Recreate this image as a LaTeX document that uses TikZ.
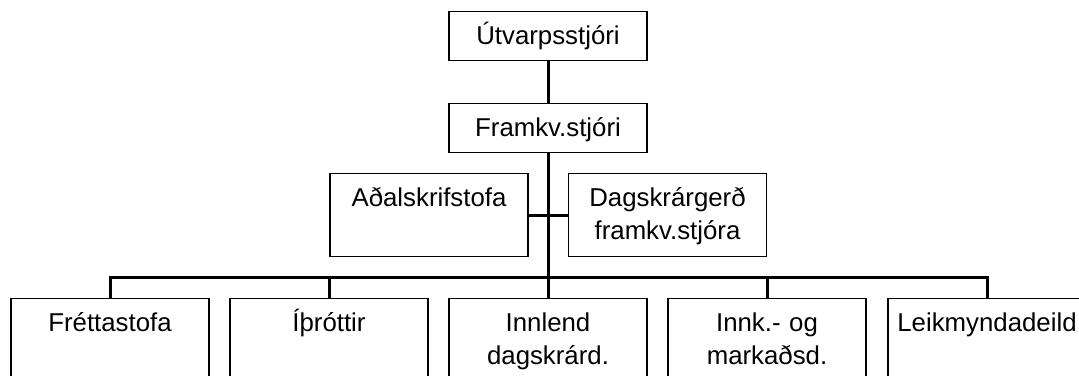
\documentclass[tikz,border=0pt]{standalone}
\usepackage{fontspec}
\setmainfont{Liberation Sans}
\usepackage{tikz}

\tikzset{
  unit/.style={draw, line width=0.7pt, anchor=north, inner sep=0pt,
    text width=99pt, align=center, text height=16.5pt,
    font=\fontsize{12.9}{16.3}\selectfont},
  topunit/.style={unit, text depth=8pt},
  midunit/.style={unit, text depth=25pt},
  lowunit/.style={unit, text depth=45pt},
  conn/.style={line width=1.5pt}
}

\begin{document}
\begin{tikzpicture}[x=0.5pt,y=-0.5pt]
  \useasboundingbox (0,0) rectangle (1079,375);

  % top of the chart
  \node[topunit] (utv) at (548,11) {Útvarpsstjóri};
  \node[topunit] (fkv) at (548,103) {Framkv.stjóri};

  % staff units
  \node[midunit] (adal) at (429,173) {Aðalskrifstofa};
  \node[midunit] (dagfk) at (667.5,173) {Dagskrárgerð\\framkv.stjóra};

  % departments
  \node[lowunit] (frett) at (110,298) {Fréttastofa};
  \node[lowunit] (ithr) at (329,298) {Íþróttir};
  \node[lowunit] (innl) at (548,298) {Innlend\\dagskrárd.};
  \node[lowunit] (innk) at (767,298) {Innk.- og\\markaðsd.};
  \node[lowunit] (leik) at (987,298) {Leikmyndadeild};

  \coordinate (bar) at (548,277);

  \draw[conn] (utv.south) -- (fkv.north);
  \draw[conn] (fkv.south) -- (innl.north);
  \draw[conn] (adal.east) -- (dagfk.west);
  \draw[conn] (frett.north) |- (bar) -| (leik.north);
  \draw[conn] (ithr.north) -- (ithr.north |- bar);
  \draw[conn] (innk.north) -- (innk.north |- bar);
\end{tikzpicture}
\end{document}
